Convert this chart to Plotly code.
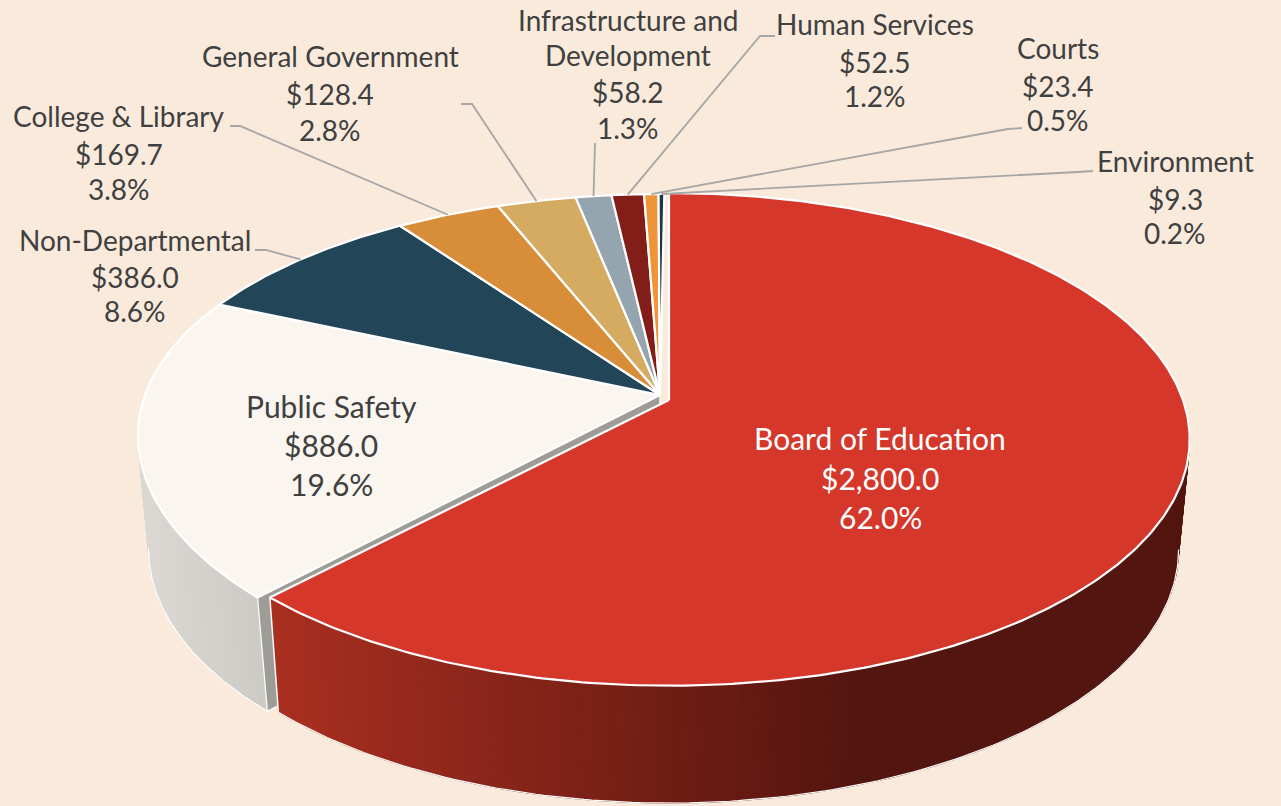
import numpy as np
import plotly.graph_objects as go

# ---- data ----
categories = ["Board of Education", "Public Safety", "Non-Departmental", "College & Library",
              "General Government", "Infrastructure and Development", "Human Services",
              "Courts", "Environment"]
values = [2800.0, 886.0, 386.0, 169.7, 128.4, 58.2, 52.5, 23.4, 9.3]

# ---- styles ----
slice_colors = ["#D5372A", "#FAF5EF", "#224557", "#D88D39", "#D4AB60", "#94A5B0", "#821D17", "#EE9539", "#1B3644"]
BG = "#F9EADC"
TEXT = "#404040"
W, H = 1281, 806

# projection of the tilted disc (screen units of the hidden axes)
RED_TOP = dict(cx=669, cy=400, a=514, b=240, k=0.16, kx=0.16, sk=0)
RED_BOT = dict(cx=669, cy=509, a=503, b=247, k=0.16, kx=0.16, sk=0)
REST_TOP = dict(cx=660, cy=395, a=515, b=239.6, k=0.192, kx=0.155, sk=5)
REST_BOT = dict(cx=658, cy=508, a=503, b=247, k=0.16, kx=0.16, sk=0)

total = sum(values)
shares = [v / total for v in values]
edges = np.concatenate([[0], np.cumsum(shares)]) * 2 * np.pi
TANGENT = np.arccos(-0.16)  # where the lower rim becomes the silhouette


def proj(theta, p):
    s, c = np.sin(theta), np.cos(theta)
    return (p["cx"] + (p["a"] * s + p["sk"] * c) / (1 + p["kx"] * c),
            p["cy"] - p["b"] * c / (1 + p["k"] * c))


def lerp(c0, c1, t):
    t = min(max(t, 0), 1)
    return "rgb(%d,%d,%d)" % tuple(round(a + (b - a) * t) for a, b in zip(c0, c1))


fig = go.Figure()


def poly(xs, ys, fill, line=None, width=0):
    fig.add_trace(go.Scatter(
        x=list(xs), y=list(ys), mode="lines", fill="toself", fillcolor=fill,
        line=dict(color=line or fill, width=width), hoverinfo="skip", showlegend=False))


def polyline(xs, ys, color, width):
    fig.add_trace(go.Scatter(
        x=list(xs), y=list(ys), mode="lines", line=dict(color=color, width=width),
        hoverinfo="skip", showlegend=False))


def side(t0, t1, top, bot, color_at, n, rim0, rim1):
    ts = np.linspace(t0, t1, n + 1)
    for a, b in zip(ts[:-1], ts[1:]):
        xa, ya = proj(a, top); xb, yb = proj(b, top)
        xc, yc = proj(b, bot); xd, yd = proj(a, bot)
        col = color_at((xa + xb + xc + xd) / 4)
        poly([xa, xb, xc, xd, xa], [ya, yb, yc, yd, ya], col, col, 1)
    tt = np.linspace(rim0, rim1, 160)
    bx, by = proj(tt, bot)
    polyline(bx, by, "#FFFFFF", 1.2)


def top_face(t0, t1, p, color):
    tt = np.linspace(t0, t1, max(6, int((t1 - t0) * 90)))
    x, y = proj(tt, p)
    poly([p["cx"], *x, p["cx"]], [p["cy"], *y, p["cy"]], color, "#FFFFFF", 2.2)


# Public Safety side wall
side(edges[1], edges[2], REST_TOP, REST_BOT,
     lambda x: lerp((219, 216, 211), (204, 203, 197), (x - 145) / 115), 50,
     edges[1], 2 * np.pi - TANGENT)

# Public Safety radial cut face
x1, y1 = proj(edges[1], REST_TOP)
x2, y2 = proj(edges[1], REST_BOT)
poly([REST_TOP["cx"], x1, x2, REST_BOT["cx"], REST_TOP["cx"]],
     [REST_TOP["cy"], y1, y2, REST_BOT["cy"], REST_TOP["cy"]], "#9D9C97", "#FFFFFF", 1.2)

# tops of all slices except the exploded one
for i in range(1, len(values)):
    top_face(edges[i], edges[i + 1], REST_TOP, slice_colors[i])

# Board of Education side wall and top
side(edges[0] + 1.0, edges[1], RED_TOP, RED_BOT,
     lambda x: lerp((170, 47, 32), (83, 21, 15), (x - 270) / 590), 170,
     TANGENT, edges[1])
x1, y1 = proj(edges[1], RED_TOP)
x2, y2 = proj(edges[1], RED_BOT)
polyline([x1, x2], [y1, y2], "#FFFFFF", 1.5)
top_face(edges[0], edges[1], RED_TOP, slice_colors[0])

# ---- leader lines: start of line near the label, then elbow, then slice rim ----
leaders = {
    2: [(255, 250), (266, 250), None],
    3: [(230, 126), (240, 126), None],
    4: [(461, 104), (472, 104), None],
    5: [(595, 143), None],
    6: [(775, 36), (760, 36), None],
    7: [(1022, 128), (1008, 129), None],
    8: [(1093, 171), (1078, 172), None],
}
for i, pts in leaders.items():
    mid = (edges[i] + edges[i + 1]) / 2
    ex, ey = proj(mid, REST_TOP)
    xs = [q[0] if q else float(ex) for q in pts]
    ys = [q[1] if q else float(ey) for q in pts]
    polyline(xs, ys, "#A6A6A6", 1.8)

# ---- labels ----
money = [f"${v:,.1f}" for v in values]
pct = [f"{s * 100:.1f}%" for s in shares]
label_lines = {
    0: ([categories[0]], 880, [437.5, 477.5, 516.5], "#FFFFFF", 30),
    1: ([categories[1]], 331, [405.5, 444.5, 483.5], TEXT, 30),
    2: ([categories[2]], 135, [239.5, 277, 311], TEXT, 28),
    3: ([categories[3]], 119, [116, 154, 189], TEXT, 28),
    4: ([categories[4]], 330, [56, 94, 130], TEXT, 28),
    5: (["Infrastructure and", "Development"], 628, [20, 55, 92, 128], TEXT, 28),
    6: ([categories[6]], 875, [24, 62, 96], TEXT, 28),
    7: ([categories[7]], 1058, [48, 86, 120], TEXT, 28),
    8: ([categories[8]], 1175, [161, 199, 233], TEXT, 28),
}
annotations = []
for i, (names, cx, ys, col, size) in label_lines.items():
    for txt, y in zip(names + [money[i], pct[i]], ys):
        annotations.append(dict(x=cx, y=y, text=txt, showarrow=False, xanchor="center", yanchor="middle",
                                font=dict(family="Lato", size=size, color=col)))

fig.update_layout(
    width=W, height=H, autosize=False, margin=dict(l=0, r=0, t=0, b=0),
    paper_bgcolor=BG, plot_bgcolor=BG, showlegend=False, annotations=annotations,
    xaxis=dict(range=[0, W], visible=False, fixedrange=True),
    yaxis=dict(range=[H, 0], visible=False, fixedrange=True),
)
fig.write_html("out.html", config=dict(displayModeBar=False),
               post_script="document.body.style.margin='0';document.body.style.overflow='hidden';"
                           "document.body.style.background='" + BG + "';")
